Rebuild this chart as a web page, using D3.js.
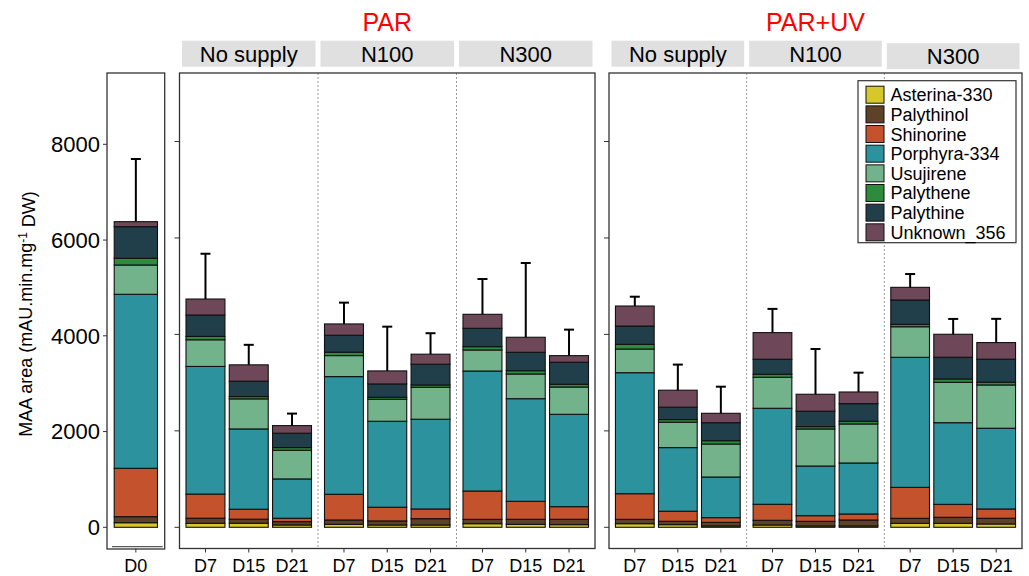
<!DOCTYPE html>
<html>
<head>
<meta charset="utf-8">
<script src="https://cdn.jsdelivr.net/npm/d3@7"></script>
<style>
body { margin: 0; background: #fff; }
text { font-family: "Liberation Sans", Arial, sans-serif; }
</style>
</head>
<body>
<svg id="chart" width="1029" height="576"></svg>
<script>
var compounds = ["Asterina-330", "Palythinol", "Shinorine", "Porphyra-334",
                 "Usujirene", "Palythene", "Palythine", "Unknown_356"];
var colors = ["#d6c72b", "#5e4129", "#c4522d", "#2c929e",
              "#72b38b", "#2e8a3c", "#203f4a", "#6e4858"];
var lights = ["PAR", "PAR+UV"];
var supplies = ["No supply", "N100", "N300"];
var days = ["D7", "D15", "D21"];

// D0 control bar
var d0Values = [96, 126, 1010, 3635, 612, 140, 660, 105];
var d0Sd = 1309;

// treatments, ordered light > supply > day
var asterina   = [83, 83, 48,   62, 48, 48,   75, 62, 55,   75, 55, 28,   48, 28, 28,   82, 82, 69];
var palythinol = [105, 85, 70,  90, 84, 131,  90, 104, 111, 90, 70, 75,   97, 96, 124,  104, 125, 118];
var shinorine  = [501, 207, 70, 533, 284, 201, 587, 373, 262, 532, 208, 97, 332, 117, 124, 642, 269, 193];
var porphyra   = [2647, 1665, 815, 2440, 1783, 1861, 2489, 2128, 1915, 2509, 1320, 843, 1991, 1030, 1058, 2697, 1693, 1674];
var usujirene  = [553, 623, 595, 436, 457, 663, 436, 512, 566, 491, 526, 684, 643, 768, 809, 634, 838, 898];
var palythene  = [69, 48, 55,   70, 41, 48,   69, 69, 57,   97, 55, 69,   63, 49, 56,   50, 69, 57];
var palythine  = [444, 319, 298, 352, 276, 430, 381, 381, 457, 380, 257, 373, 311, 319, 365, 504, 450, 477];
var unknown356 = [332, 339, 158, 234, 270, 208, 290, 312, 137, 415, 352, 195, 552, 352, 242, 263, 477, 345];
var sdValues   = [939, 415, 249, 442, 918, 435, 732, 1540, 539, 193, 531, 552, 492, 939, 401, 276, 318, 492];

var series = [asterina, palythinol, shinorine, porphyra, usujirene, palythene, palythine, unknown356];

var svg = d3.select("#chart");

var y0 = d3.scaleLinear().domain([0, 8000]).range([527.3, 144.3]);
var yM = d3.scaleLinear().domain([0, 9000]).range([527.3, 93.3]);

var frameTop = 73, frameBot = 548.5;

function drawBars(g, rows, x, y) {
  var stacked = d3.stack().keys(compounds)(rows);
  stacked.forEach(function(layer, k) {
    g.selectAll(null)
      .data(layer)
    .enter().append("rect")
      .attr("x", function(d) { return x(d.data.day); })
      .attr("width", x.bandwidth())
      .attr("y", function(d) { return y(d[1]); })
      .attr("height", function(d) { return y(d[0]) - y(d[1]); })
      .style("fill", colors[k])
      .style("stroke", "#111")
      .style("stroke-width", 1.1);
  });
  var tops = stacked[stacked.length - 1];
  tops.forEach(function(d) {
    var cx = x(d.data.day) + x.bandwidth() / 2;
    g.append("line")
      .attr("x1", cx).attr("x2", cx)
      .attr("y1", y(d[1])).attr("y2", y(d[1] + d.data.sd))
      .style("stroke", "#000").style("stroke-width", 2);
    g.append("line")
      .attr("x1", cx - 5).attr("x2", cx + 5)
      .attr("y1", y(d[1] + d.data.sd)).attr("y2", y(d[1] + d.data.sd))
      .style("stroke", "#000").style("stroke-width", 2);
  });
}

function xLabels(g, x) {
  x.domain().forEach(function(day) {
    var cx = x(day) + x.bandwidth() / 2;
    g.append("line")
      .attr("x1", cx).attr("x2", cx)
      .attr("y1", frameBot).attr("y2", frameBot + 4)
      .style("stroke", "#333");
    g.append("text")
      .attr("x", cx).attr("y", 572)
      .attr("text-anchor", "middle")
      .style("font-size", "18px")
      .text(day);
  });
}

// ---- D0 panel ----
var d0L = 107, d0R = 164.7;
var xD0 = d3.scaleBand().domain(["D0"]).range([d0L, d0R]).paddingInner(0.1).paddingOuter(0.15);
var gD0 = svg.append("g");
var d0Row = { day: "D0", sd: d0Sd };
compounds.forEach(function(c, k) { d0Row[c] = d0Values[k]; });
drawBars(gD0, [d0Row], xD0, y0);
gD0.append("rect")
  .attr("x", d0L).attr("y", frameTop)
  .attr("width", d0R - d0L).attr("height", frameBot - frameTop + 0.5)
  .style("fill", "none").style("stroke", "#333").style("stroke-width", 1.3);
gD0.append("line")
  .attr("x1", d0L + 5).attr("x2", d0R - 2)
  .attr("y1", 546.7).attr("y2", 546.7)
  .style("stroke", "#333");
xLabels(gD0, xD0);

y0.ticks(4).forEach(function(t) {
  gD0.append("line")
    .attr("x1", d0L - 4).attr("x2", d0L)
    .attr("y1", y0(t)).attr("y2", y0(t))
    .style("stroke", "#333");
  gD0.append("text")
    .attr("x", d0L - 7).attr("y", y0(t))
    .attr("dy", "0.36em")
    .attr("text-anchor", "end")
    .style("font-size", "22px")
    .text(t);
});

var yTitle = svg.append("text")
  .attr("transform", "translate(32,314) rotate(-90)")
  .attr("text-anchor", "middle")
  .style("font-size", "18px");
yTitle.append("tspan").text("MAA area (mAU.min.mg");
yTitle.append("tspan").attr("dy", "-0.45em").style("font-size", "12px").text("-1");
yTitle.append("tspan").attr("dy", "0.45em").text(" DW)");

// ---- treatment panels ----
var panels = [{ light: "PAR", x0: 179.5, x1: 595 }, { light: "PAR+UV", x0: 609, x1: 1022 }];

panels.forEach(function(p, pi) {
  var g = svg.append("g");
  var fx = d3.scaleBand().domain(supplies).range([p.x0, p.x1]);

  // facet separators
  supplies.slice(1).forEach(function(s) {
    g.append("line")
      .attr("x1", fx(s)).attr("x2", fx(s))
      .attr("y1", frameTop).attr("y2", frameBot)
      .style("stroke", "#999").style("stroke-dasharray", "2,2");
  });

  supplies.forEach(function(s, si) {
    var x = d3.scaleBand().domain(days)
      .range([fx(s), fx(s) + fx.bandwidth()])
      .paddingInner(0.1).paddingOuter(0.15);
    var rows = days.map(function(day, di) {
      var idx = pi * 9 + si * 3 + di;
      var r = { day: day, sd: sdValues[idx] };
      compounds.forEach(function(c, k) { r[c] = series[k][idx]; });
      return r;
    });
    drawBars(g, rows, x, yM);
    xLabels(g, x);

    // strip (last PAR+UV strip sits a touch lower in the original)
    var dy = (pi == 1 && si == 2) ? 2.5 : 0;
    g.append("rect")
      .attr("x", fx(s) + 2.5).attr("y", 40.7 + dy)
      .attr("width", fx.bandwidth() - 5).attr("height", 26)
      .style("fill", "#e0e0e0");
    g.append("text")
      .attr("x", fx(s) + fx.bandwidth() / 2).attr("y", 61.5 + dy)
      .attr("text-anchor", "middle")
      .style("font-size", "22px")
      .text(s);
  });

  g.append("rect")
    .attr("x", p.x0).attr("y", frameTop)
    .attr("width", p.x1 - p.x0).attr("height", frameBot - frameTop)
    .style("fill", "none").style("stroke", "#333").style("stroke-width", 1.3);

  yM.ticks(3).forEach(function(t) {
    g.append("line")
      .attr("x1", p.x0 - 5).attr("x2", p.x0)
      .attr("y1", yM(t)).attr("y2", yM(t))
      .style("stroke", "#333");
  });

  svg.append("text")
    .attr("x", (p.x0 + p.x1) / 2).attr("y", 31)
    .attr("text-anchor", "middle")
    .style("font-size", "25px")
    .style("fill", "#ff0000")
    .text(p.light);
});

// ---- legend ----
var leg = svg.append("g");
leg.append("rect")
  .attr("x", 858).attr("y", 80.7)
  .attr("width", 158).attr("height", 162)
  .style("fill", "#fff").style("stroke", "#333").style("stroke-width", 1.2);
compounds.forEach(function(c, k) {
  var cy = 94.7 + k * 19.66;
  leg.append("rect")
    .attr("x", 866).attr("y", cy - 8.5)
    .attr("width", 18).attr("height", 17)
    .style("fill", colors[k]).style("stroke", "#111");
  leg.append("text")
    .attr("x", 890.5).attr("y", cy)
    .attr("dy", "0.36em")
    .style("font-size", "18px")
    .text(c);
});
</script>
</body>
</html>
